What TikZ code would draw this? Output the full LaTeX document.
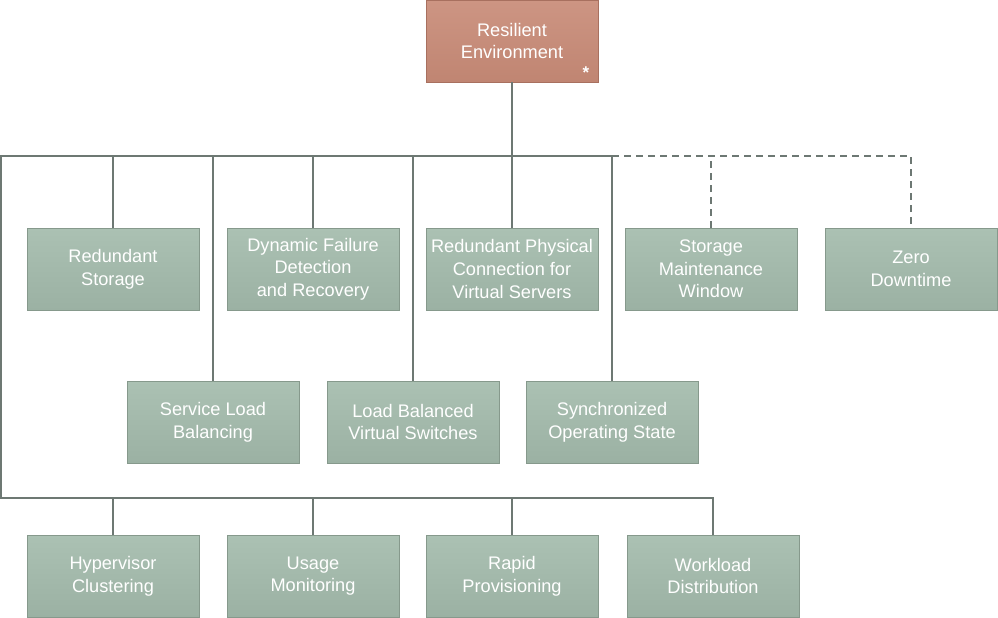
\documentclass[tikz,border=0pt]{standalone}
\usepackage{fontspec}
\setmainfont{Liberation Sans}
\definecolor{gtop}{HTML}{ABC1B3}
\definecolor{gbot}{HTML}{9BB1A3}
\definecolor{gedge}{HTML}{86998C}
\definecolor{otop}{HTML}{CD9583}
\definecolor{obot}{HTML}{C08572}
\definecolor{oedge}{HTML}{A8705F}
\definecolor{linec}{HTML}{6D7873}
\begin{document}
\begin{tikzpicture}[x=1pt,y=1pt,
  gbox/.style={minimum width=172pt, minimum height=82pt, inner sep=0pt, align=center,
    text=white, font=\fontsize{18.2}{22.7}\selectfont, top color=gtop, bottom color=gbot,
    draw=gedge, line width=0.8pt},
  obox/.style={gbox, top color=otop, bottom color=obot, draw=oedge},
  conn/.style={draw=linec, line width=1.5pt},
  dconn/.style={conn, dash pattern=on 7pt off 5pt}]
\useasboundingbox (0,0) rectangle (998,-618);
% top
\node[obox] (re) at (512,-41) {Resilient\\Environment};
\node[text=white, font=\bfseries\fontsize{17}{17}\selectfont, inner sep=0pt] (ast) at (586,-73) {*};
% row 1
\node[gbox] (rs)  at (113,-269) {Redundant\\Storage};
\node[gbox] (dfd) at (313,-269) {Dynamic Failure\\Detection\\and Recovery};
\node[gbox] (rpc) at (512,-269) {Redundant Physical\\Connection for\\Virtual Servers};
\node[gbox] (smw) at (711,-269) {Storage\\Maintenance\\Window};
\node[gbox] (zd)  at (911,-269) {Zero\\Downtime};
% row 2
\node[gbox] (slb) at (213,-422) {Service Load\\Balancing};
\node[gbox] (lbv) at (413,-422) {Load Balanced\\Virtual Switches};
\node[gbox] (sos) at (612,-422) {Synchronized\\Operating State};
% row 3
\node[gbox] (hc)  at (113,-576) {Hypervisor\\Clustering};
\node[gbox] (um)  at (313,-576) {Usage\\Monitoring};
\node[gbox] (rp)  at (512,-576) {Rapid\\Provisioning};
\node[gbox] (wd)  at (713,-576) {Workload\\Distribution};
% buses
\coordinate (busL) at (1,-156);
\coordinate (busB) at (1,-498);
\draw[conn] (re.south) -- (re.south |- busL);
\draw[conn] (sos.north |- busL) -- (busL) -- (busB) -- (wd.north |- busB) -- (wd.north);
\draw[conn] (rs.north) -- (rs.north |- busL);
\draw[conn] (dfd.north) -- (dfd.north |- busL);
\draw[conn] (rpc.north) -- (rpc.north |- busL);
\draw[conn] (slb.north) -- (slb.north |- busL);
\draw[conn] (lbv.north) -- (lbv.north |- busL);
\draw[conn] (sos.north) -- (sos.north |- busL);
\draw[conn] (hc.north) -- (hc.north |- busB);
\draw[conn] (um.north) -- (um.north |- busB);
\draw[conn] (rp.north) -- (rp.north |- busB);
\draw[dconn] (sos.north |- busL) -- (zd.north |- busL) -- (zd.north);
\draw[dconn] (smw.north) -- (smw.north |- busL);
\end{tikzpicture}
\end{document}
